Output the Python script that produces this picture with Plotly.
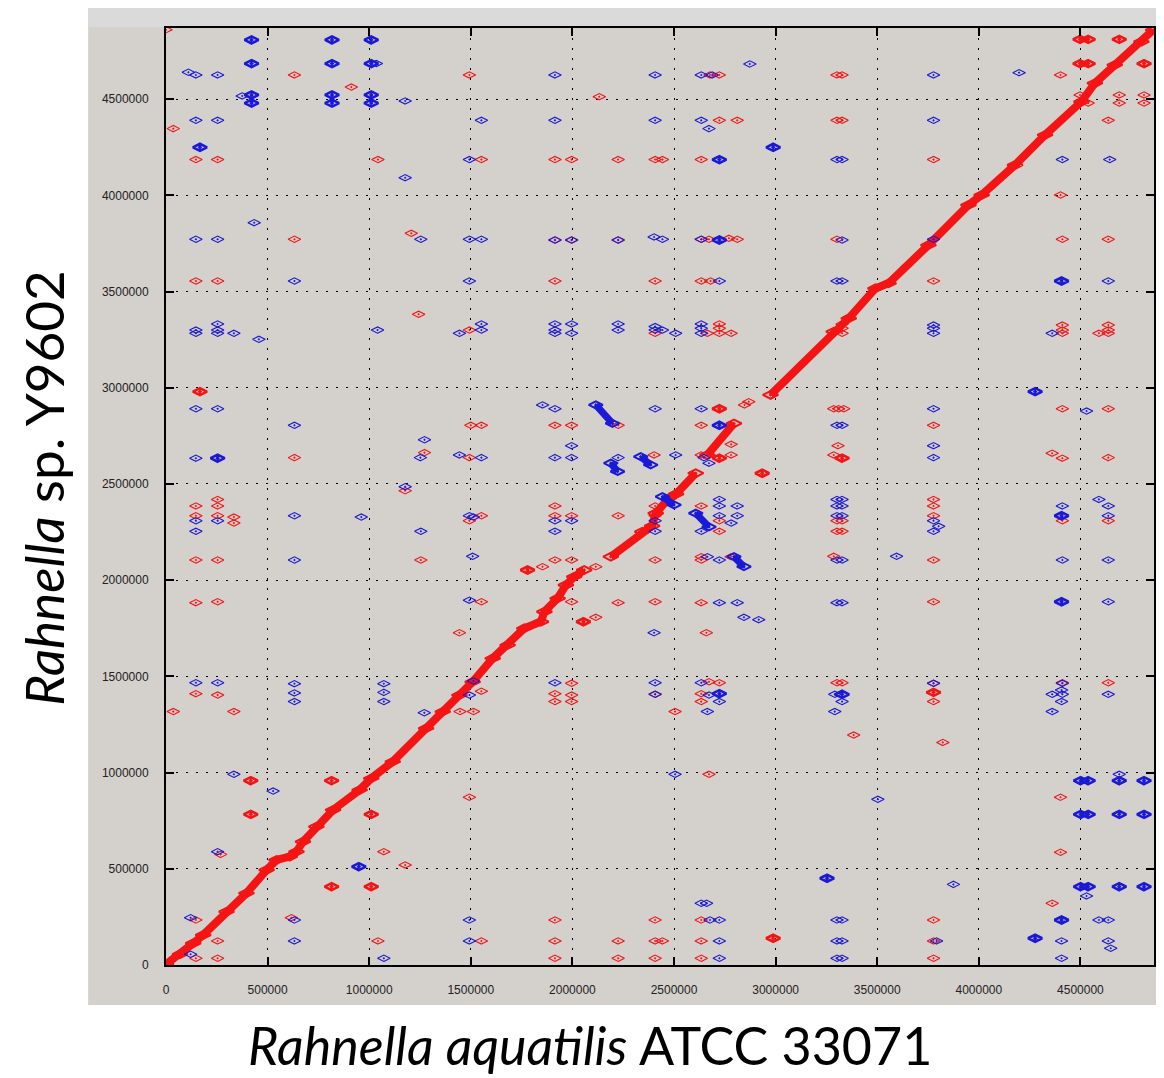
import plotly.graph_objects as go

# Axis extents (bp) and ticks
X_MAX = 4862000   # Rahnella aquatilis ATCC 33071 genome length shown
Y_MAX = 4870000   # Rahnella sp. Y9602 genome length shown
tick_vals = [0, 500000, 1000000, 1500000, 2000000, 2500000, 3000000, 3500000, 4000000, 4500000]
tick_text = ["0", "500000", "1000000", "1500000", "2000000", "2500000", "3000000", "3500000", "4000000", "4500000"]

# Main forward (red) synteny diagonal, as read breakpoints (kb); separate runs
diag_run_1 = [(0, 4), (69, 56), (134, 113), (183, 156), (298, 277), (396, 373), (495, 494), (544, 546),
              (609, 563), (642, 589), (674, 641), (740, 719), (822, 806), (953, 910), (1010, 970),
              (1116, 1057), (1280, 1230), (1362, 1317), (1444, 1403), (1509, 1472), (1608, 1594),
              (1681, 1663), (1763, 1750), (1845, 1784), (1862, 1836), (1927, 1906), (1968, 1975),
              (2009, 2018), (2058, 2053)]
diag_run_2 = [(2189, 2122), (2344, 2252), (2392, 2282), (2410, 2348), (2475, 2426), (2510, 2448), (2607, 2556)]
diag_run_3 = [(2664, 2651), (2795, 2815)]
diag_run_4 = [(2975, 2963), (3286, 3292), (3360, 3361), (3491, 3517), (3556, 3543), (3752, 3742),
              (3949, 3950), (4014, 4002), (4178, 4158), (4326, 4314), (4505, 4487), (4571, 4583),
              (4669, 4678), (4800, 4799), (4858, 4860)]
diag_runs = [diag_run_1, diag_run_2, diag_run_3, diag_run_4]

# Reverse (blue) inverted runs (kb)
inv_run_1 = [(2115, 2911), (2197, 2815)]
inv_run_2 = [(2189, 2608), (2222, 2565)]
inv_run_3 = [(2336, 2642), (2385, 2599)]
inv_run_4 = [(2443, 2434), (2500, 2391)]
inv_run_5 = [(2607, 2348), (2672, 2277)]
inv_run_6 = [(2795, 2122), (2844, 2070)]
inv_runs = [inv_run_1, inv_run_2, inv_run_3, inv_run_4, inv_run_5, inv_run_6]

# Forward (red) isolated matches (kb)
red_pts = [
    (0, 4861), (912, 4563), (632, 4626), (1493, 4626), (36, 4347),
    (147, 4186), (254, 4186), (1043, 4186), (1552, 4186), (632, 3772), (1207, 3803),
    (147, 3555), (254, 3555), (1243, 3382), (1493, 3300), (1500, 2805), (1552, 2805),
    (1272, 2663), (1493, 2637), (632, 2637), (1177, 2465), (254, 2420),
    (147, 2386), (254, 2386), (147, 2335), (254, 2335), (334, 2328), (334, 2297),
    (1493, 2309), (1552, 2335), (147, 2105), (254, 2105), (1254, 2105),
    (147, 1883), (254, 1888), (1552, 1888), (1444, 1727), (147, 1410), (254, 1403),
    (36, 1317), (334, 1317), (1552, 1423), (1447, 1317), (1513, 1317), (1493, 872),
    (269, 575), (1072, 589), (1177, 520), (147, 234), (617, 246),
    (254, 125), (1043, 125), (1552, 125), (147, 35), (254, 35),
    (2677, 4626), (2723, 4626), (2132, 4513), (2723, 4390), (2811, 4390),
    (1914, 4186), (1996, 4186), (2225, 4186), (2407, 4186), (2443, 4186), (2634, 4186),
    (1914, 3768), (1996, 3768), (2225, 3768), (2634, 3772), (2672, 3772), (2770, 3777), (2811, 3772),
    (1914, 3555), (2407, 3555), (2634, 3555), (2680, 3555),
    (2407, 3283), (2664, 3283), (2723, 3332), (2723, 3309), (2723, 3283), (2781, 3283),
    (2847, 2911), (2868, 2928), (1914, 2805), (1996, 2805), (2225, 2805), (2634, 2805),
    (2781, 2706), (2402, 2651), (2634, 2651), (2781, 2651),
    (1914, 2386), (1914, 2335), (1996, 2335), (2225, 2335), (2407, 2386), (2407, 2335),
    (2634, 2386), (2723, 2309), (2723, 2254),
    (1914, 2105), (1996, 2105), (2407, 2105), (2634, 2122), (2634, 2105), (2781, 2122),
    (2115, 2070), (1853, 2070), (1996, 1888), (2225, 1883), (2407, 1888), (2634, 1883),
    (2115, 1807), (2659, 1727), (1996, 1464), (2672, 1472), (2723, 1467),
    (1914, 1410), (1996, 1403), (2407, 1407), (2634, 1410), (1914, 1369), (1996, 1369), (2634, 1369),
    (2505, 1317), (2672, 991),
    (1914, 234), (2407, 234), (2634, 234),
    (1914, 125), (2225, 125), (2407, 125), (2443, 125), (2634, 125),
    (1914, 35), (2225, 35), (2407, 35), (2634, 35),
    (3302, 4626), (3327, 4626), (4402, 4626),
    (4498, 4522), (4538, 4480), (4691, 4522), (4691, 4480), (4813, 4522), (4813, 4480),
    (3302, 4390), (3327, 4390), (4637, 4390), (3777, 4186), (4402, 4002),
    (3302, 3772), (4411, 3772), (4637, 3772), (3777, 3555),
    (3327, 3332), (3327, 3309), (3327, 3283),
    (4411, 3326), (4411, 3300), (4411, 3283), (4591, 3283), (4637, 3326), (4637, 3300), (4637, 3283),
    (3286, 2891), (3310, 2891), (3335, 2891), (4411, 2891), (4637, 2891),
    (3777, 2805), (3307, 2699), (3286, 2651), (4361, 2660), (4411, 2634), (4637, 2637),
    (3777, 2420), (3777, 2386),
    (3302, 2309), (3327, 2309), (3777, 2335), (4411, 2309), (4637, 2309),
    (3302, 2254), (3327, 2254), (3286, 2124), (3777, 2105), (3777, 1888),
    (3302, 1467), (3327, 1467), (3777, 1464), (4411, 1467), (4637, 1467), (3777, 1369),
    (3384, 1195), (3823, 1157), (4402, 872), (4402, 586), (4361, 321),
    (3777, 234), (3777, 125), (3777, 35),
]

# Forward (red) matches drawn as stacked / overlapping marks (kb)
red_dense_pts = [
    (167, 2980), (417, 958), (815, 958), (417, 783), (1010, 783), (815, 407), (1010, 407),
    (2723, 2891), (2723, 2634), (2934, 2556), (1779, 2053), (2054, 1784), (2988, 139),
    (4498, 4811), (4538, 4811), (4691, 4811), (4498, 4685), (4538, 4685), (4813, 4685),
    (3327, 2634), (3777, 1417),
]

# Reverse (blue) isolated matches (kb)
blue_pts = [
    (110, 4640), (147, 4626), (254, 4626), (375, 4517), (1035, 4685), (1177, 4491),
    (147, 4390), (254, 4390), (1552, 4390), (1493, 4186), (1177, 4092), (434, 3858),
    (147, 3772), (254, 3772), (1254, 3772), (1493, 3772), (1552, 3772), (632, 3555), (1493, 3555),
    (147, 3300), (147, 3283), (254, 3332), (254, 3300), (254, 3283), (334, 3283), (457, 3252),
    (1041, 3300), (1444, 3283), (1552, 3332), (1552, 3300),
    (147, 2891), (254, 2891), (632, 2805), (1272, 2730), (1252, 2637), (1444, 2651), (1552, 2637),
    (147, 2634), (1177, 2486), (147, 2309), (254, 2309), (147, 2254),
    (632, 2335), (961, 2328), (1493, 2335), (1513, 2328), (1254, 2254),
    (632, 2105), (1509, 2124), (1493, 1896), (147, 1467), (254, 1467),
    (632, 1462), (632, 1414), (632, 1369), (1072, 1462), (1072, 1417), (1072, 1369),
    (1271, 1311), (1513, 1476), (1493, 1403), (334, 991), (527, 904), (254, 589),
    (121, 246), (632, 234), (1493, 234), (632, 125), (1493, 125), (121, 56), (1072, 35),
    (1914, 4626), (2407, 4626), (2634, 4626), (2688, 4626), (2873, 4683),
    (1914, 4390), (2407, 4390), (2634, 4390), (2672, 4347),
    (1914, 3768), (1996, 3768), (2225, 3768), (2402, 3784), (2443, 3772), (2634, 3772), (2723, 3555),
    (1914, 3332), (1914, 3300), (1914, 3283), (1996, 3332), (1996, 3283), (2225, 3332), (2225, 3300),
    (2407, 3318), (2407, 3300), (2443, 3300), (2508, 3283), (2634, 3332), (2634, 3309), (2634, 3283),
    (1853, 2911), (1914, 2891), (2407, 2891), (2634, 2891), (1996, 2699),
    (1914, 2637), (1996, 2637), (2225, 2637), (2508, 2651), (2647, 2637), (2672, 2608),
    (1914, 2309), (1996, 2309), (1914, 2254), (2407, 2309), (2407, 2254),
    (2723, 2420), (2723, 2386), (2723, 2335), (2811, 2386), (2811, 2335), (2781, 2297), (2634, 2254),
    (2664, 2122), (2723, 2105), (2723, 1883), (2811, 1883), (2844, 1807), (2917, 1795), (2402, 1727),
    (1914, 1467), (2407, 1467), (2634, 1467), (2672, 1403), (2723, 1369), (2664, 1317), (2407, 1407),
    (2505, 991), (2634, 321), (2660, 321), (2677, 234), (2723, 234), (2723, 125), (2723, 35),
    (3777, 4626), (4198, 4638), (3777, 4390), (3302, 4186), (3327, 4186), (4411, 4186), (4644, 4186),
    (3327, 3768), (3777, 3772), (3302, 3555), (3327, 3555), (4637, 3555),
    (3777, 3326), (3777, 3309), (3777, 3283), (4361, 3283), (3777, 2891), (4530, 2879),
    (3302, 2805), (3327, 2805), (3777, 2699), (3777, 2637), (3302, 2420), (3327, 2420), (4591, 2420),
    (3302, 2386), (3327, 2386), (3302, 2335), (3327, 2335),
    (3777, 2309), (3802, 2280), (3777, 2254), (4411, 2386), (4637, 2386), (4637, 2335),
    (3302, 2105), (3327, 2105), (3595, 2124), (4411, 2105), (4637, 2105),
    (3302, 1883), (3327, 1883), (4637, 1888), (3777, 1464), (4411, 1464),
    (3291, 1407), (4361, 1407), (4411, 1407), (4407, 1429), (4637, 1407),
    (3327, 1369), (4407, 1369), (3291, 1317), (4361, 1317), (3503, 861), (4691, 991),
    (3875, 419), (4530, 359), (3302, 234), (3327, 234), (4591, 234), (4637, 234),
    (3302, 125), (3327, 125), (3792, 125), (4407, 125), (4637, 125), (4649, 87),
    (3302, 35), (3327, 35), (4407, 35),
]

# Reverse (blue) matches drawn as stacked / overlapping marks (kb)
blue_dense_pts = [
    (421, 4808), (817, 4808), (1010, 4808), (421, 4685), (817, 4685), (1010, 4685),
    (421, 4522), (421, 4480), (817, 4522), (817, 4480), (1010, 4522), (1010, 4480),
    (167, 4250), (254, 2634), (949, 511), (2988, 4250), (2723, 4186), (2723, 3768), (2723, 2805),
    (2723, 1410), (3253, 451), (4277, 2980), (4407, 3555), (4407, 2335), (4407, 1888),
    (3327, 1407), (4501, 958), (4538, 958), (4691, 958), (4813, 958),
    (4501, 783), (4538, 783), (4691, 783), (4813, 783),
    (4501, 407), (4538, 407), (4691, 407), (4813, 407), (4277, 139), (4407, 234),
]

RED = "rgb(245,20,20)"
BLUE = "rgb(25,25,215)"
BG = "#d4d0cc"


def xs(pts):
    return [p[0] * 1000 for p in pts]


def ys(pts):
    return [p[1] * 1000 for p in pts]


fig = go.Figure()

for run in diag_runs:
    fig.add_trace(go.Scatter(x=xs(run), y=ys(run), mode="lines+markers",
                             line=dict(color=RED, width=8),
                             marker=dict(symbol="diamond-wide-open-dot", size=11, color=RED, line=dict(width=2)),
                             hoverinfo="skip"))

fig.add_trace(go.Scatter(x=xs(red_pts), y=ys(red_pts), mode="markers",
                         marker=dict(symbol="diamond-wide-open-dot", size=9, color=RED, line=dict(width=1.1)),
                         hoverinfo="skip"))
fig.add_trace(go.Scatter(x=xs(red_dense_pts), y=ys(red_dense_pts), mode="markers",
                         marker=dict(symbol="diamond-wide-open-dot", size=10, color=RED, line=dict(width=2.6)),
                         hoverinfo="skip"))
fig.add_trace(go.Scatter(x=xs(blue_pts), y=ys(blue_pts), mode="markers",
                         marker=dict(symbol="diamond-wide-open-dot", size=9, color=BLUE, line=dict(width=1.1)),
                         hoverinfo="skip"))
fig.add_trace(go.Scatter(x=xs(blue_dense_pts), y=ys(blue_dense_pts), mode="markers",
                         marker=dict(symbol="diamond-wide-open-dot", size=10, color=BLUE, line=dict(width=2.6)),
                         hoverinfo="skip"))
for run in inv_runs:
    fig.add_trace(go.Scatter(x=xs(run), y=ys(run), mode="lines+markers",
                             line=dict(color=BLUE, width=7),
                             marker=dict(symbol="diamond-wide-open-dot", size=10, color=BLUE, line=dict(width=2)),
                             hoverinfo="skip"))

axis_common = dict(
    tickvals=tick_vals, ticktext=tick_text,
    ticks="inside", ticklen=8, tickwidth=2, tickcolor="black",
    showline=True, linewidth=2, linecolor="black", mirror="allticks",
    showgrid=True, gridcolor="black", gridwidth=1, griddash="2px,8px",
    zeroline=False, tickfont=dict(family="Liberation Sans", size=12, color="#222222"),
    ticklabelstandoff=13, fixedrange=True,
)
fig.update_xaxes(range=[0, X_MAX], **axis_common)
fig.update_yaxes(range=[0, Y_MAX], **axis_common)

# The page body has an 8px margin, so the figure is sized to fit the 1164x1078 window.
fig.update_layout(
    width=1156, height=1070,
    margin=dict(l=158, r=8, t=20, b=113),
    paper_bgcolor="white", plot_bgcolor=BG, showlegend=False,
    shapes=[
        dict(type="rect", xref="paper", yref="paper", x0=-0.0788, x1=1.01, y0=-0.0427, y1=1.0213,
             fillcolor=BG, line=dict(width=0), layer="below"),
        dict(type="rect", xref="paper", yref="paper", x0=-0.0788, x1=1.01, y0=1.0011, y1=1.0213,
             fillcolor="#dadada", line=dict(width=0), layer="below"),
    ],
    annotations=[
        dict(text="<i>Rahnella aquatilis</i> ATCC 33071", xref="paper", yref="paper",
             x=0.429, y=-0.0852, xanchor="center", yanchor="middle", showarrow=False,
             font=dict(family="Lato", size=52, color="black")),
        dict(text="<i>Rahnella</i> sp. Y9602", xref="paper", yref="paper",
             x=-0.1243, y=0.5085, xanchor="center", yanchor="middle", showarrow=False, textangle=-90,
             font=dict(family="Lato", size=53, color="black")),
    ],
)

fig.write_html("out.html")
